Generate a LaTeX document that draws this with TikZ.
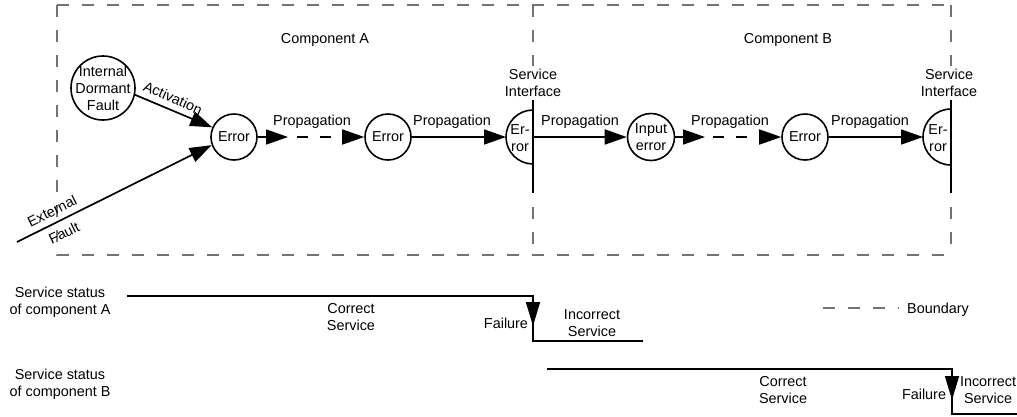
\documentclass[tikz,border=0pt]{standalone}
\usepackage{fontspec}
\setmainfont{Liberation Sans}
\usetikzlibrary{arrows.meta}
\begin{document}
\begin{tikzpicture}[x=1pt,y=-1pt,
  font=\fontsize{14.4}{17}\selectfont,
  bnd/.style={draw=black!55, line width=1.3pt, dash pattern=on 12pt off 13pt},
  conn/.style={line width=1.7pt},
  arr/.style={conn, -{Triangle[length=22pt,width=15pt]}},
  darr/.style={arr, dash pattern=on 11pt off 12pt},
  stat/.style={line width=1.7pt},
  sarr/.style={line width=1.7pt, -{Triangle[length=24pt,width=14pt]}},
  state/.style={circle, draw, line width=1.6pt, inner sep=0pt, align=center},
  lbl/.style={align=center, inner sep=0pt},
]
\useasboundingbox (0,0) rectangle (1017,416);

% component boundaries
\draw[bnd] (57,5) -- (951,5);
\draw[bnd] (57,5) -- (57,255) -- (951,255);
\draw[bnd] (533,5) -- (533,66);
\draw[bnd] (533,207) -- (533,255);
\draw[bnd] (951,5) -- (951,66);
\draw[bnd] (951,207) -- (951,255);

\node[lbl] (compA) at (325,40) {Component A};
\node[lbl] (compB) at (788,40) {Component B};

% service interfaces
\node[lbl] (siA) at (533,83) {Service\\Interface};
\node[lbl] (siB) at (949,83) {Service\\Interface};
\draw[conn] (533,100) -- (533,193);
\draw[conn] (951,100) -- (951,193);
\draw[line width=1.6pt] (533,164) arc[start angle=90, end angle=270, radius=27];
\draw[line width=1.6pt] (951,165) arc[start angle=90, end angle=270, radius=28];
\node[lbl] (erA) at (520,138) {Er-\\ror};
\node[lbl] (erB) at (938,138) {Er-\\ror};
\coordinate (erAin) at (506,137);
\coordinate (erAout) at (533,137);
\coordinate (erBin) at (923,137);

% faults and errors
\node[state, minimum size=64pt, text width=56pt, inner sep=-5pt] (idf) at (103,88) {Internal\\Dormant\\Fault};
\node[state, minimum size=46pt] (e1) at (234,137) {Error};
\node[state, minimum size=46pt] (e2) at (388,137) {Error};
\node[state, minimum size=47pt] (inp) at (651,137) {Input\\error};
\node[state, minimum size=46pt] (e3) at (805,137) {Error};
\coordinate (ext) at (17,242);

\draw[arr] (idf.-12) -- (e1.156);
\draw[arr] (ext) -- (e1.200);
\node[lbl, rotate=-24] (act) at (173,98) {Activation};
\node[lbl, rotate=26] (extl) at (52,211) {External};
\node[lbl, rotate=26] (fltl) at (64,233) {Fault};

% propagation chain
\coordinate (pa1) at (288,137);
\coordinate (pa2) at (297,137);
\draw[arr] (e1) -- (pa1);
\draw[darr] (pa2) -- (e2);
\draw[arr] (e2) -- (erAin);
\draw[arr] (erAout) -- (inp);
\coordinate (pb1) at (705,137);
\coordinate (pb2) at (713,137);
\draw[arr] (inp) -- (pb1);
\draw[darr] (pb2) -- (e3);
\draw[arr] (e3) -- (erBin);

\node[lbl] (p1) at (312,122) {Propagation};
\node[lbl] (p2) at (452,122) {Propagation};
\node[lbl] (p3) at (580,122) {Propagation};
\node[lbl] (p4) at (730,122) {Propagation};
\node[lbl] (p5) at (870,122) {Propagation};

% service status of component A
\node[lbl] (ssA) at (60,302) {Service status\\of component A};
\coordinate (a0) at (127,296);
\coordinate (a1) at (533,296);
\coordinate (a2) at (533,341);
\coordinate (a3) at (643,341);
\coordinate (af) at (533,326);
\draw[stat] (a0) -- (a1) -- (a2) -- (a3);
\draw[sarr] (a1) -- (af);
\node[lbl] (csA) at (351,317) {Correct\\Service};
\node[lbl] (fA) at (506,323) {Failure};
\node[lbl] (isA) at (592,323) {Incorrect\\Service};

% service status of component B
\node[lbl] (ssB) at (60,384) {Service status\\of component B};
\coordinate (b0) at (547,369);
\coordinate (b1) at (952,369);
\coordinate (b2) at (952,414);
\coordinate (b3) at (1017,414);
\coordinate (bf) at (952,400);
\draw[stat] (b0) -- (b1) -- (b2) -- (b3);
\draw[sarr] (b1) -- (bf);
\node[lbl] (csB) at (783,390) {Correct\\Service};
\node[lbl] (fB) at (924,394) {Failure};
\node[lbl] (isB) at (988,390) {Incorrect\\Service};

% legend
\coordinate (lg0) at (823,308);
\coordinate (lg1) at (899,308);
\draw[bnd] (lg0) -- (lg1);
\node[lbl, anchor=base west] (lgt) at (907,313) {Boundary};
\end{tikzpicture}
\end{document}
